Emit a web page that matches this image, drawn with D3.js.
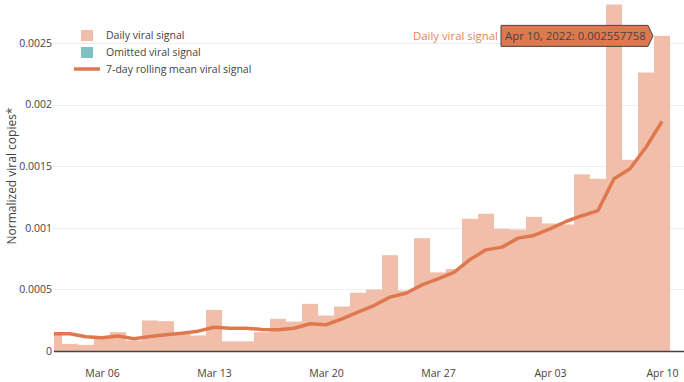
<!DOCTYPE html>
<html><head><meta charset="utf-8">
<script src="https://cdn.jsdelivr.net/npm/d3@7"></script>
<style>
html,body{margin:0;padding:0;background:#fff;}
svg{display:block;font-family:"Open Sans",sans-serif;}
</style></head>
<body><svg id="c" width="684" height="382"></svg>
<script>
const startDate = "2022-03-03";
const dailySignal = [0.000148,0.000058,0.000050,0.000105,0.000153,0.000085,0.000248,0.000242,0.000145,0.000126,
0.000334,0.000078,0.000078,0.000153,0.000261,0.000239,0.000383,0.000288,0.000361,0.000473,
0.000499,0.000778,0.000491,0.000916,0.000638,0.000665,0.001073,0.001114,0.000992,0.000986,
0.001089,0.001035,0.001027,0.001434,0.001398,0.002813,0.001552,0.002260,0.002557758];
const rollingMean = [0.000140,0.000140,0.000115,0.000108,0.000122,0.000100,0.000118,0.000131,0.000145,0.000161,
0.000193,0.000185,0.000185,0.000175,0.000172,0.000185,0.000221,0.000213,0.000261,0.000315,
0.000369,0.000437,0.000469,0.000537,0.000586,0.000638,0.000742,0.000821,0.000843,0.000916,
0.000938,0.000992,0.001051,0.001098,0.001140,0.001398,0.001479,0.001654,0.001863];
const omittedSignal = [];
const xTickDates = ["2022-03-06","2022-03-13","2022-03-20","2022-03-27","2022-04-03","2022-04-10"];
const yTickValues = [0,0.0005,0.001,0.0015,0.002,0.0025];
const yTickLabels = ["0","0.0005","0.001","0.0015","0.002","0.0025"];
const legendLabels = ["Daily viral signal","Omitted viral signal","7-day rolling mean viral signal"];
const yTitle = "Normalized viral copies*";
const hoverIndex = 38;

const parse = d3.utcParse("%Y-%m-%d");
const d0 = parse(startDate);
const dates = dailySignal.map((_, i) => d3.utcDay.offset(d0, i));

const barColor = "#f1bfa9", lineColor = "#e0784f", omitColor = "#7fc1c0", textColor = "#444";
const svg = d3.select("#c");
const L = 53, R = 684, B = 351;

const x = d3.scaleUtc().domain([dates[0], dates[dates.length-1]]).range([54, 662]);
const y = d3.scaleLinear().domain([0, 0.0025]).range([B, 43]);

svg.append("defs").append("clipPath").attr("id","clip")
  .append("rect").attr("x", 54).attr("y", -10).attr("width", R - 54).attr("height", B + 10);

// grid
svg.append("g").selectAll("line").data(yTickValues.filter(v => v > 0)).join("line")
  .attr("x1", L).attr("x2", R).attr("y1", d => Math.round(y(d)) + 0.5).attr("y2", d => Math.round(y(d)) + 0.5)
  .attr("stroke", "#eeeeee").attr("stroke-width", 1);

// y axis
const yAxis = d3.axisLeft(y).tickValues(yTickValues).tickFormat((d, i) => yTickLabels[i]).tickSize(0).tickPadding(1);
const ya = svg.append("g").attr("transform", `translate(${L},0)`).call(yAxis);
ya.select(".domain").remove();
ya.selectAll("text").attr("fill", textColor).style("font-size", "10.5px").style("font-family", "'Open Sans',sans-serif");

// x axis
const xAxis = d3.axisBottom(x).tickValues(xTickDates.map(parse)).tickFormat(d3.utcFormat("%b %d")).tickSize(0).tickPadding(18.5);
const xa = svg.append("g").attr("transform", `translate(0,${B})`).call(xAxis);
xa.select(".domain").remove();
xa.selectAll("text").attr("fill", textColor).style("font-size", "10.5px").style("font-family", "'Open Sans',sans-serif");

// bars
const plot = svg.append("g").attr("clip-path", "url(#clip)");
const dayW = x(dates[1]) - x(dates[0]);
plot.append("g").selectAll("rect").data(dailySignal).join("rect")
  .attr("x", (d, i) => x(dates[i]) - dayW / 2)
  .attr("width", dayW)
  .attr("y", d => y(d))
  .attr("height", d => B - y(d))
  .attr("fill", barColor);
plot.append("g").selectAll("rect").data(omittedSignal).join("rect");

// zero line
svg.append("line").attr("x1", 54).attr("x2", R).attr("y1", B + 0.5).attr("y2", B + 0.5)
  .attr("stroke", "#444").attr("stroke-width", 1.5);

// rolling line
const line = d3.line().x((d, i) => x(dates[i])).y(d => y(d));
plot.append("path").datum(rollingMean).attr("d", line)
  .attr("fill", "none").attr("stroke", lineColor).attr("stroke-width", 3.5)
  .attr("stroke-linejoin", "round").attr("stroke-linecap", "butt");

// y title
svg.append("text").attr("transform", "translate(16,176) rotate(-90)")
  .attr("text-anchor", "middle").attr("fill", textColor).style("font-size", "12px").text(yTitle);

// legend
const lg = svg.append("g");
lg.append("rect").attr("x", 81).attr("y", 30).attr("width", 12).attr("height", 11).attr("fill", barColor);
lg.append("rect").attr("x", 81).attr("y", 47).attr("width", 12).attr("height", 11).attr("fill", omitColor);
lg.append("line").attr("x1", 74).attr("x2", 100).attr("y1", 69).attr("y2", 69).attr("stroke", lineColor).attr("stroke-width", 3.5);
lg.selectAll("text").data(legendLabels).join("text")
  .attr("x", 106).attr("y", (d, i) => 38.5 + i * 17)
  .attr("fill", textColor).style("font-size", "10.5px").text(d => d);

// hover label
const hy = y(dailySignal[hoverIndex]);
const hv = svg.append("g");
const bx0 = 501, bx1 = 648, by0 = hy - 10.5, by1 = hy + 10.5;
hv.append("path")
  .attr("d", `M${bx0},${by0}H${bx1}L${bx1+5},${hy}L${bx1},${by1}H${bx0}Z`)
  .attr("fill", lineColor).attr("stroke", "#444").attr("stroke-width", 1);
hv.append("text").attr("x", bx0 + 4).attr("y", hy + 4).attr("fill", textColor)
  .style("font-size", "11.4px").text(d3.utcFormat("%b %d, %Y")(dates[hoverIndex]).replace(/ 0(\d),/, " $1,") + ": " + dailySignal[hoverIndex]);
hv.append("text").attr("x", bx0 - 3).attr("y", hy + 4).attr("text-anchor", "end").attr("fill", "#e8825c")
  .style("font-size", "11.4px").text(legendLabels[0]);
</script></body></html>
